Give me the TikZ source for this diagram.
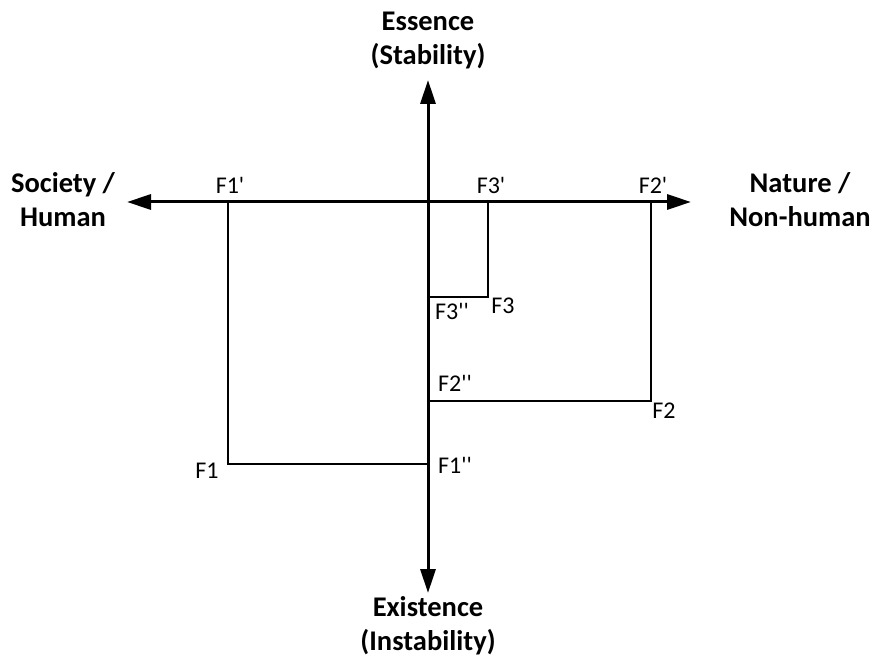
\documentclass[tikz,border=0pt]{standalone}
\usepackage{fontspec}
\setmainfont{Carlito}
\usetikzlibrary{arrows.meta}
\newcommand\pq{\textquotesingle}
\begin{document}
\begin{tikzpicture}[x=1pt,y=-1pt,
  axis/.style={line width=3pt,-{Triangle[length=24pt,width=15pt]}},
  thin/.style={line width=1.5pt},
  title/.style={font=\fontsize{28.5}{34}\selectfont\bfseries,align=center,inner sep=0pt},
  flab/.style={font=\fontsize{24}{28}\selectfont,inner sep=0pt}]
\useasboundingbox (0,0) rectangle (876,658);
\coordinate (O) at (428,202);
\coordinate (top) at (428,80);
\coordinate (bot) at (428,593);
\coordinate (left) at (127,202);
\coordinate (right) at (691,202);
\coordinate (F1p) at (228,202);
\coordinate (F1) at (228,464);
\coordinate (F1pp) at (428,464);
\coordinate (F2p) at (651,202);
\coordinate (F2) at (651,401);
\coordinate (F2pp) at (428,401);
\coordinate (F3p) at (488,202);
\coordinate (F3) at (488,297);
\coordinate (F3pp) at (428,297);
\draw[thin] (F1p) -- (F1) -- (F1pp);
\draw[thin] (F2p) -- (F2) -- (F2pp);
\draw[thin] (F3p) -- (F3) -- (F3pp);
\draw[axis] (O) -- (top);
\draw[axis] (O) -- (bot);
\draw[axis] (O) -- (left);
\draw[axis] (O) -- (right);
\node[title] (ess) at (428,41) {Essence\\(Stability)};
\node[title] (exi) at (428,626) {Existence\\(Instability)};
\node[title] (soc) at (63,200) {Society /\\Human};
\node[title] (nat) at (800,200) {Nature /\\Non-human};
\node[flab] (l1p) at (230,185) {F1\pq};
\node[flab] (l3p) at (491,185) {F3\pq};
\node[flab] (l2p) at (653,185) {F2\pq};
\node[flab] (l3pp) at (452,311) {F3\pq\pq};
\node[flab] (l3) at (503,306) {F3};
\node[flab] (l2pp) at (455,383) {F2\pq\pq};
\node[flab] (l2) at (664,411) {F2};
\node[flab] (l1pp) at (455,465) {F1\pq\pq};
\node[flab] (l1) at (207,471) {F1};
\end{tikzpicture}
\end{document}
